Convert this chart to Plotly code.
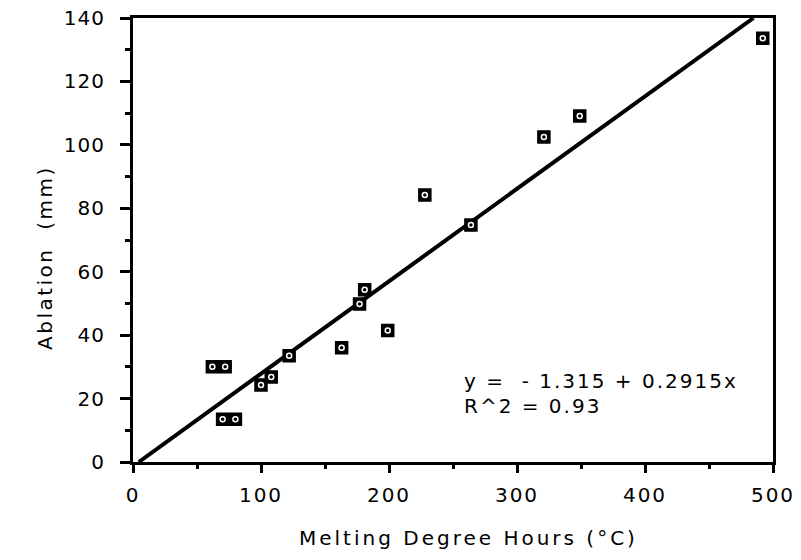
import plotly.graph_objects as go

# Data
mdh = [62, 72, 70, 80, 100, 108, 122, 163, 177, 181, 199, 228, 264, 321, 349, 492]
ablation = [30.0, 30.0, 13.5, 13.5, 24.3, 26.8, 33.5, 36.0, 49.8, 54.3, 41.5, 84.2, 74.7, 102.5, 109.1, 133.6]

# Regression coefficients
intercept = -1.315
slope = 0.2915
x_fit_range = [(0 - intercept) / slope, (140 - intercept) / slope]
y_fit = [intercept + slope * x for x in x_fit_range]

x_ticks = [0, 100, 200, 300, 400, 500]
x_tick_labels = ["0", "100", "200", "300", "400", "500"]
y_ticks = [0, 20, 40, 60, 80, 100, 120, 140]
y_tick_labels = ["0", "20", "40", "60", "80", "100", "120", "140"]

x_title = "Melting Degree Hours (°C)"
y_title = "Ablation  (mm)"
eq_text = "y =  - 1.315 + 0.2915x"
r2_text = "R^2 = 0.93"

FONT = "DejaVu Sans"
FS = 20


def spaced(s, px):
    return f'<span style="letter-spacing:{px}px">{s}</span>'


fig = go.Figure()
fig.add_trace(go.Scatter(x=x_fit_range, y=y_fit, mode="lines",
                         line=dict(color="black", width=4), showlegend=False))
fig.add_trace(go.Scatter(x=mdh, y=ablation, mode="markers",
                         marker=dict(symbol="square", size=12, color="black",
                                     line=dict(color="black", width=1.5)),
                         showlegend=False, cliponaxis=False))
fig.add_trace(go.Scatter(x=mdh, y=ablation, mode="markers",
                         marker=dict(symbol="circle-open", size=5, color="white",
                                     line=dict(color="white", width=1.5)),
                         showlegend=False, cliponaxis=False))

fig.update_layout(
    width=801, height=560,
    margin=dict(l=133, r=28, t=18, b=98),
    paper_bgcolor="white", plot_bgcolor="white",
    font=dict(family=FONT, color="black", size=FS),
    xaxis=dict(range=[0, 500], tickvals=x_ticks,
               ticktext=[spaced(t, 2) for t in x_tick_labels],
               ticks="outside", ticklen=8, automargin=False,
               tickwidth=2.5, tickcolor="black", showgrid=False, zeroline=False,
               showline=True, linewidth=3, linecolor="black", mirror=True,
               tickfont=dict(family=FONT, size=FS), ticklabelstandoff=5,
               minor=dict(dtick=50, tick0=0, ticks="outside", ticklen=4,
                          tickwidth=2.5, tickcolor="black", showgrid=False)),
    yaxis=dict(range=[0, 140], tickvals=y_ticks,
               ticktext=[spaced(t, 1) for t in y_tick_labels],
               ticks="outside", ticklen=10, automargin=False,
               tickwidth=2.5, tickcolor="black", showgrid=False, zeroline=False,
               showline=True, linewidth=3, linecolor="black", mirror=True,
               tickfont=dict(family=FONT, size=FS), ticklabelstandoff=11,
               minor=dict(dtick=10, tick0=0, ticks="outside", ticklen=5,
                          tickwidth=2.5, tickcolor="black", showgrid=False)),
    annotations=[
        dict(text=spaced(x_title, 3), xref="paper", yref="paper",
             x=(468 - 133) / 640, y=(462 - 538) / 444, showarrow=False,
             font=dict(family=FONT, size=FS), xanchor="center", yanchor="middle"),
        dict(text=spaced(y_title, 2.5), xref="paper", yref="paper",
             x=(45 - 133) / 640, y=(462 - 258) / 444, showarrow=False, textangle=-90,
             font=dict(family=FONT, size=FS), xanchor="center", yanchor="middle"),
        dict(text=spaced(eq_text, 2), xref="paper", yref="paper",
             x=(462 - 133) / 640, y=(462 - 381) / 444, showarrow=False,
             font=dict(family=FONT, size=FS), xanchor="left", yanchor="middle"),
        dict(text=spaced(r2_text, 2), xref="paper", yref="paper",
             x=(462 - 133) / 640, y=(462 - 406) / 444, showarrow=False,
             font=dict(family=FONT, size=FS), xanchor="left", yanchor="middle"),
    ],
)

fig.write_html("out.html")
